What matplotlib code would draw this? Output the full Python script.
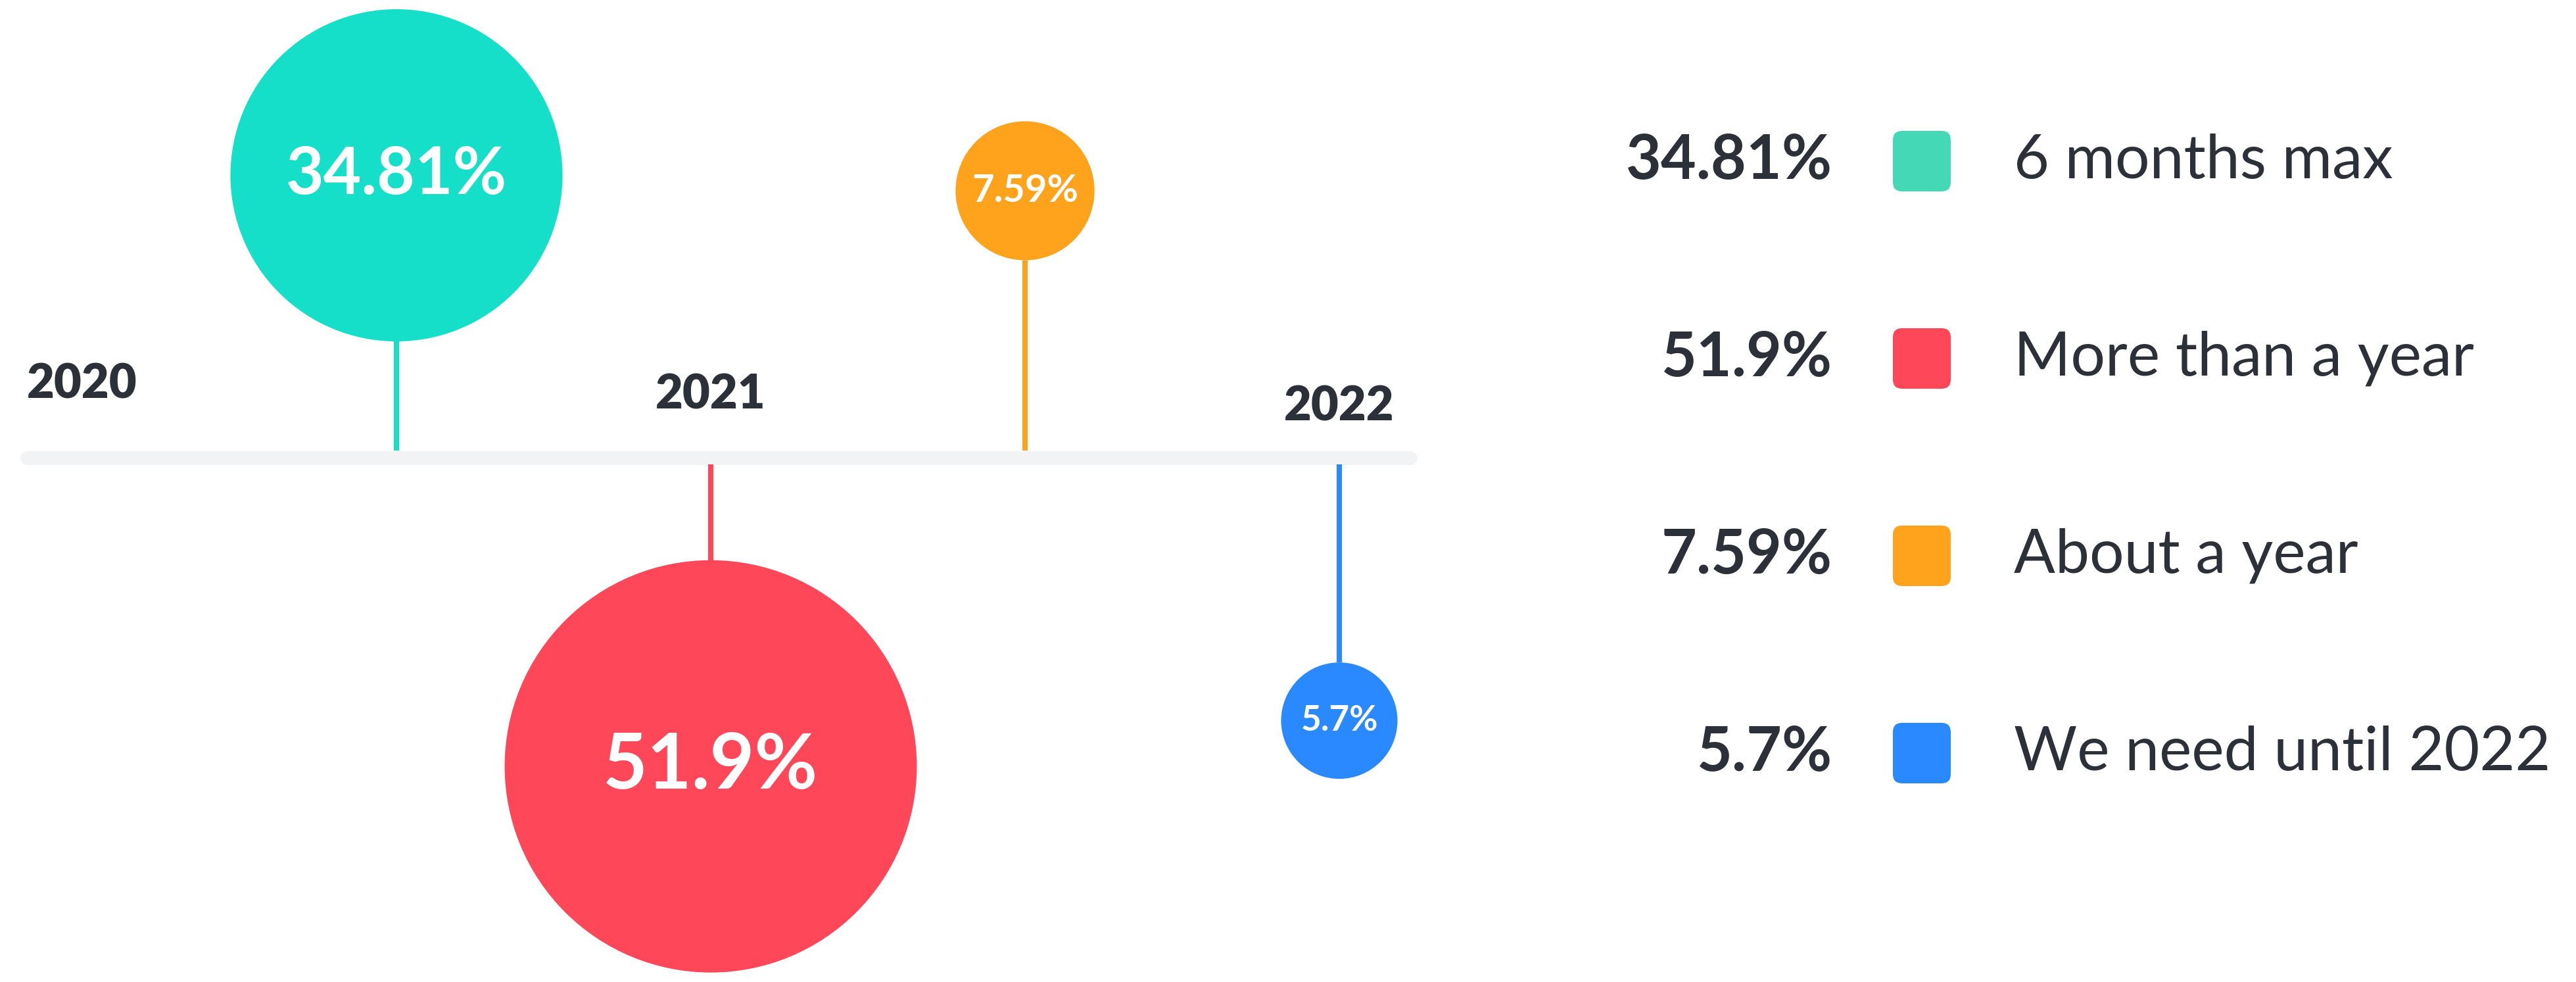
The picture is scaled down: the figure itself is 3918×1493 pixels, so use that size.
import matplotlib
matplotlib.use("Agg")
import matplotlib.pyplot as plt
import numpy as np
from matplotlib.patches import Circle, FancyBboxPatch

# Data
categories = ["6 months max", "More than a year", "About a year", "We need until 2022"]
values = [34.81, 51.9, 7.59, 5.7]
value_labels = ["34.81%", "51.9%", "7.59%", "5.7%"]
years = ["2020", "2021", "2022"]

circle_colors = ["#16DFC9", "#FE4759", "#FFA31C", "#2A89FF"]
legend_colors = ["#45D8B6", "#FE4759", "#FFA31C", "#2A89FF"]
text_dark = "#2C3039"
track_color = "#F2F3F5"

W, H = 3918, 1493
fig = plt.figure(figsize=(W / 100, H / 100), dpi=100)
ax = fig.add_axes([0, 0, 1, 1])
ax.set_xlim(0, W)
ax.set_ylim(H, 0)
ax.axis("off")

plt.rcParams["font.family"] = ["Lato", "DejaVu Sans"]

# timeline layout (pixel units)
track_y = 695.5
track_half = 10.5
slot0, slot_step = 603, 478


def radius(v):
    # sqrt size scale for bubbles
    return 46.7 * np.sqrt(v) - 23


def offset(r):
    # distance between timeline and bubble centre
    return 372.8 + 0.309 * r


# timeline track
ax.plot([40.5, 2144.5], [track_y, track_y], color=track_color, lw=21 * 0.72,
        solid_capstyle="round", zorder=1)

# bubbles with stems, alternating above / below the track
for i, (v, lab, col) in enumerate(zip(values, value_labels, circle_colors)):
    x = slot0 + i * slot_step
    r = radius(v)
    if i % 2 == 0:
        cy = max(track_y - offset(r), r + 14)  # keep inside the canvas
        ax.plot([x, x], [cy + r, track_y - track_half], color=col, lw=8 * 0.72,
                solid_capstyle="butt", zorder=2)
    else:
        cy = track_y + offset(r)
        ax.plot([x, x], [track_y + track_half, cy - r], color=col, lw=8 * 0.72,
                solid_capstyle="butt", zorder=2)
    ax.add_patch(Circle((x, cy), r, color=col, lw=0, zorder=3))
    ax.text(x, cy, lab, color="white", fontsize=20 + 0.205 * r, fontweight="bold",
            ha="center", va="center", zorder=4)

# year labels, staggered between the slots
for k, yr in enumerate(years):
    x = slot0 + (2 * k - 1) * slot_step
    ax.text(x, 584 + 17 * k, yr, color=text_dark, fontsize=52, fontweight="heavy",
            ha="center", va="center")

# legend
row0, row_step = 245, 300
for i, (cat, lab, col) in enumerate(zip(categories, value_labels, legend_colors)):
    y = row0 + i * row_step
    ax.text(2787, y, lab, color=text_dark, fontsize=67, fontweight="bold",
            ha="right", va="center")
    ax.add_patch(FancyBboxPatch((2879, y - 46), 88, 92,
                                boxstyle="round,pad=0,rounding_size=14",
                                fc=col, ec="none"))
    ax.text(3063, y, cat, color=text_dark, fontsize=67, ha="left", va="center")

fig.savefig("out.png", dpi=100, facecolor="white")
